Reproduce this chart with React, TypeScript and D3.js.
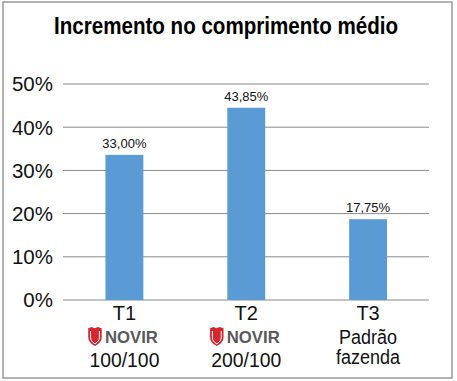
import React from "react";
import * as d3 from "d3";

const categories = ["T1", "T2", "T3"];
const values = [33.6, 44.5, 18.7];
const valueLabels = ["33,00%", "43,85%", "17,75%"];
const subLine1 = ["NOVIR", "NOVIR", "Padrão"];
const subLine2 = ["100/100", "200/100", "fazenda"];
const yTicks = [0, 10, 20, 30, 40, 50];
const title = "Incremento no comprimento médio";

const W = 457;
const H = 381;

export default function App() {
  const x = d3
    .scaleBand<string>()
    .domain(categories)
    .range([63.5, 429])
    .paddingInner(0.689)
    .paddingOuter(0.3445);
  const y = d3.scaleLinear().domain([0, 50]).range([300, 84]);
  const font = "'Liberation Sans', Arial, sans-serif";

  const shield = (ox: number, oy: number) => {
    const p = d3.path();
    p.moveTo(ox + 0, oy + 1.2);
    p.lineTo(ox + 3.5, oy + 0);
    p.lineTo(ox + 6.5, oy + 1.2);
    p.lineTo(ox + 9.5, oy + 0);
    p.lineTo(ox + 13.5, oy + 1.2);
    p.lineTo(ox + 13.5, oy + 10);
    p.quadraticCurveTo(ox + 13.5, oy + 16, ox + 6.75, oy + 19);
    p.quadraticCurveTo(ox + 0, oy + 16, ox + 0, oy + 10);
    p.closePath();
    const q = d3.path();
    q.moveTo(ox + 2.3, oy + 4);
    q.lineTo(ox + 2.3, oy + 10);
    q.quadraticCurveTo(ox + 2.3, oy + 14.5, ox + 6.75, oy + 16.8);
    q.quadraticCurveTo(ox + 11.2, oy + 14.5, ox + 11.2, oy + 10);
    q.lineTo(ox + 11.2, oy + 4);
    return { outer: p.toString(), inner: q.toString() };
  };

  return (
    <svg
      width={W}
      height={H}
      style={{ position: "absolute", left: 0, top: 0, background: "#fff" }}
      fontFamily={font}
    >
      <rect x={3} y={2} width={449} height={376} fill="#fff" stroke="#9a9a9a" strokeWidth={1.5} />
      <text
        x={226}
        y={33.5}
        textAnchor="middle"
        fontWeight="bold"
        fontSize={24}
        textLength={344}
        lengthAdjust="spacingAndGlyphs"
        fill="#000"
      >
        {title}
      </text>
      {yTicks.map((t) => (
        <g key={t}>
          <line x1={63} x2={429} y1={y(t)} y2={y(t)} stroke="#8a8a8a" strokeWidth={1} />
          <text x={53} y={y(t) + 7.3} textAnchor="end" fontSize={20.5} fill="#111">
            {t}%
          </text>
        </g>
      ))}
      {categories.map((c, i) => {
        const bx = x(c)!;
        const bw = x.bandwidth();
        const cx = bx + bw / 2;
        const s = shield(cx - 36.2, 327);
        const isNovir = subLine1[i] === "NOVIR";
        return (
          <g key={c}>
            <rect x={bx} y={y(values[i])} width={bw} height={y(0) - y(values[i])} fill="#5b9bd5" />
            <text x={cx} y={y(values[i]) - 7} textAnchor="middle" fontSize={13} fill="#111">
              {valueLabels[i]}
            </text>
            <text x={cx} y={319.5} textAnchor="middle" fontSize={20} fill="#111">
              {c}
            </text>
            {isNovir ? (
              <g>
                <path d={s.outer} fill="#d8262f" />
                <path d={s.inner} fill="none" stroke="#fff" strokeWidth={1} />
                <text
                  x={cx - 19.5}
                  y={342.7}
                  fontSize={16.5}
                  fontWeight="bold"
                  fill="#58595b"
                  textLength={53}
                  lengthAdjust="spacingAndGlyphs"
                >
                  {subLine1[i]}
                </text>
              </g>
            ) : (
              <text
                x={cx}
                y={344}
                textAnchor="middle"
                fontSize={20}
                fill="#111"
                textLength={58}
                lengthAdjust="spacingAndGlyphs"
              >
                {subLine1[i]}
              </text>
            )}
            <text
              x={cx}
              y={isNovir ? 366.7 : 364.3}
              textAnchor="middle"
              fontSize={20}
              fill="#111"
              textLength={isNovir ? 70 : 64}
              lengthAdjust="spacingAndGlyphs"
            >
              {subLine2[i]}
            </text>
          </g>
        );
      })}
    </svg>
  );
}
